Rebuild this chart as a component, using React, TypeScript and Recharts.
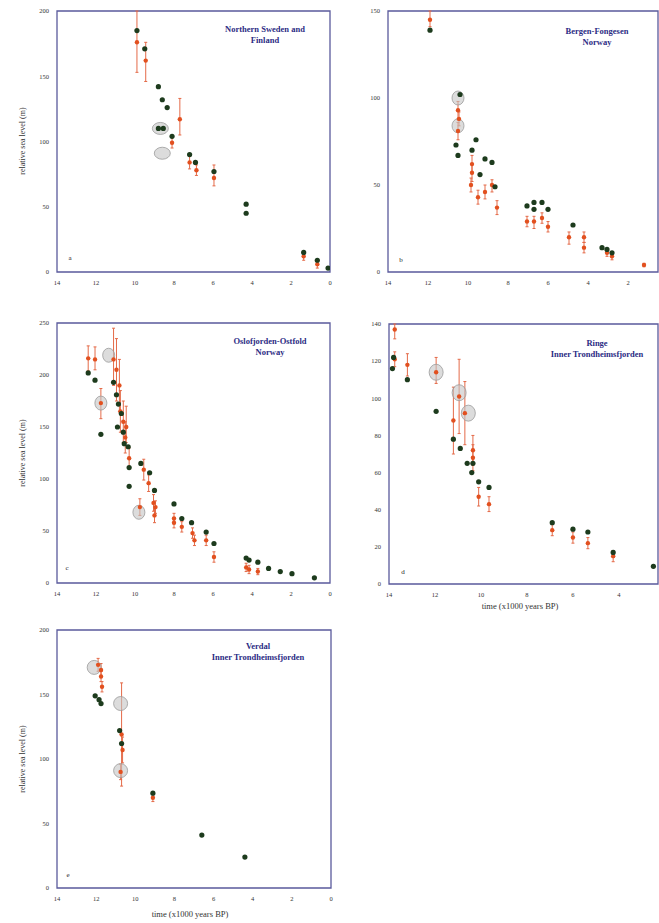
import React from 'react';
import { ScatterChart, Scatter, XAxis, YAxis, ErrorBar, ReferenceArea } from 'recharts';

const FONT = '"Liberation Serif", "DejaVu Serif", serif';
const FRAME = '#5a5a9c';
const DARK = '#1d3b1d';
const RED = '#e2501f';
const RED_BAR = '#e46a48';
const TITLE = '#2c2c84';

type P = { t: number; v: number; e?: [number, number] };

// ---------- Panel a: Northern Sweden and Finland ----------
const p1Dark: P[] = [
  { t: 9.9, v: 185 }, { t: 9.5, v: 171 }, { t: 8.8, v: 142 }, { t: 8.6, v: 132 },
  { t: 8.35, v: 126 }, { t: 8.8, v: 110 }, { t: 8.55, v: 110 }, { t: 8.1, v: 104 },
  { t: 7.2, v: 90 }, { t: 6.9, v: 84 }, { t: 5.95, v: 77 }, { t: 4.3, v: 52 },
  { t: 4.3, v: 45 }, { t: 1.35, v: 15 }, { t: 0.65, v: 9 }, { t: 0.1, v: 3 },
];
const p1Red: P[] = [
  { t: 9.9, v: 176, e: [23, 24] }, { t: 9.45, v: 162, e: [16, 14] }, { t: 7.7, v: 117, e: [12, 16] },
  { t: 8.1, v: 99, e: [4, 4] }, { t: 7.2, v: 84, e: [5, 5] }, { t: 6.85, v: 78, e: [4, 4] },
  { t: 5.95, v: 72, e: [6, 10] }, { t: 1.35, v: 12, e: [3, 3] }, { t: 0.65, v: 6, e: [3, 3] },
];
const p1Grey: P[] = [{ t: 8.7, v: 110 }, { t: 8.6, v: 91 }];

// ---------- Panel b: Bergen ----------
const p2Dark: P[] = [
  { t: 11.9, v: 139 }, { t: 10.4, v: 102 }, { t: 10.6, v: 73 }, { t: 10.5, v: 67 },
  { t: 9.6, v: 76 }, { t: 9.8, v: 70 }, { t: 9.4, v: 56 }, { t: 9.15, v: 65 },
  { t: 8.8, v: 63 }, { t: 8.65, v: 49 }, { t: 7.05, v: 38 }, { t: 6.7, v: 40 },
  { t: 6.7, v: 36 }, { t: 6.3, v: 40 }, { t: 6.0, v: 36 }, { t: 4.75, v: 27 },
  { t: 3.3, v: 14 }, { t: 3.05, v: 13 }, { t: 2.8, v: 11 },
];
const p2Red: P[] = [
  { t: 11.9, v: 145, e: [4, 5] }, { t: 10.5, v: 93, e: [5, 5] }, { t: 10.45, v: 88, e: [4, 4] },
  { t: 10.5, v: 81, e: [5, 5] }, { t: 9.8, v: 62, e: [5, 5] }, { t: 9.8, v: 57, e: [5, 5] },
  { t: 9.85, v: 50, e: [4, 4] }, { t: 9.5, v: 43, e: [4, 4] }, { t: 9.15, v: 46, e: [4, 4] },
  { t: 8.8, v: 50, e: [4, 3] }, { t: 8.55, v: 37, e: [4, 4] }, { t: 7.05, v: 29, e: [3, 3] },
  { t: 6.7, v: 29, e: [4, 3] }, { t: 6.3, v: 31, e: [3, 3] }, { t: 6.0, v: 26, e: [3, 3] },
  { t: 4.95, v: 20, e: [4, 3] }, { t: 4.2, v: 20, e: [3, 3] }, { t: 4.2, v: 14, e: [3, 3] },
  { t: 3.05, v: 11, e: [2, 2] }, { t: 2.8, v: 9, e: [2, 2] }, { t: 1.2, v: 4, e: [1, 1] },
];
const p2Grey: P[] = [{ t: 10.5, v: 100 }, { t: 10.5, v: 84 }];

// ---------- Panel c: Oslofjorden-Ostfold ----------
const p3Dark: P[] = [
  { t: 12.4, v: 202 }, { t: 12.05, v: 195 }, { t: 11.75, v: 143 }, { t: 11.1, v: 193 },
  { t: 10.95, v: 181 }, { t: 10.85, v: 172 }, { t: 10.7, v: 163 }, { t: 10.9, v: 150 },
  { t: 10.6, v: 145 }, { t: 10.55, v: 134 }, { t: 10.35, v: 131 }, { t: 10.3, v: 111 },
  { t: 10.3, v: 93 }, { t: 9.7, v: 115 }, { t: 9.25, v: 106 }, { t: 9.0, v: 89 },
  { t: 8.0, v: 76 }, { t: 7.6, v: 62 }, { t: 7.1, v: 58 }, { t: 6.35, v: 49 },
  { t: 5.95, v: 38 }, { t: 4.3, v: 24 }, { t: 4.15, v: 22 }, { t: 3.7, v: 20 },
  { t: 3.15, v: 14 }, { t: 2.55, v: 11 }, { t: 1.95, v: 9 }, { t: 0.8, v: 5 },
];
const p3Red: P[] = [
  { t: 12.4, v: 216, e: [12, 12] }, { t: 12.05, v: 215, e: [10, 12] }, { t: 11.75, v: 173, e: [15, 14] },
  { t: 11.1, v: 215, e: [25, 30] }, { t: 10.95, v: 205, e: [30, 30] }, { t: 10.8, v: 190, e: [25, 25] },
  { t: 10.75, v: 165, e: [20, 20] }, { t: 10.6, v: 155, e: [20, 20] }, { t: 10.45, v: 150, e: [15, 20] },
  { t: 10.5, v: 140, e: [15, 15] }, { t: 10.3, v: 120, e: [10, 10] }, { t: 9.75, v: 73, e: [8, 8] },
  { t: 9.55, v: 109, e: [10, 10] }, { t: 9.3, v: 96, e: [8, 8] }, { t: 9.05, v: 77, e: [8, 8] },
  { t: 8.95, v: 73, e: [6, 6] }, { t: 9.0, v: 65, e: [7, 7] }, { t: 8.0, v: 62, e: [5, 5] },
  { t: 8.0, v: 58, e: [5, 5] }, { t: 7.6, v: 54, e: [5, 5] }, { t: 7.05, v: 48, e: [5, 5] },
  { t: 6.95, v: 41, e: [5, 5] }, { t: 6.35, v: 41, e: [5, 5] }, { t: 5.95, v: 25, e: [5, 5] },
  { t: 4.3, v: 15, e: [4, 4] }, { t: 4.15, v: 13, e: [4, 4] }, { t: 3.7, v: 11, e: [3, 3] },
];
const p3Grey: P[] = [{ t: 11.75, v: 173 }, { t: 11.35, v: 219 }, { t: 9.8, v: 68 }];

// ---------- Panel d: Inner Trondheimsfjorden ----------
const p4Dark: P[] = [
  { t: 13.8, v: 122 }, { t: 13.85, v: 116 }, { t: 13.2, v: 110 }, { t: 11.95, v: 93 },
  { t: 11.2, v: 78 }, { t: 10.9, v: 73 }, { t: 10.6, v: 65 }, { t: 10.35, v: 65 },
  { t: 10.4, v: 60 }, { t: 10.1, v: 55 }, { t: 9.65, v: 52 }, { t: 6.9, v: 33 },
  { t: 6.0, v: 29.5 }, { t: 5.35, v: 28 }, { t: 4.25, v: 17 }, { t: 2.5, v: 9.5 },
];
const p4Red: P[] = [
  { t: 13.75, v: 137, e: [5, 3] }, { t: 13.75, v: 121, e: [4, 4] }, { t: 13.2, v: 118, e: [6, 6] },
  { t: 11.95, v: 114, e: [6, 8] }, { t: 11.2, v: 88, e: [18, 18] }, { t: 10.95, v: 101, e: [20, 20] },
  { t: 10.7, v: 92, e: [17, 17] }, { t: 10.35, v: 72, e: [8, 8] }, { t: 10.35, v: 68, e: [7, 7] },
  { t: 10.1, v: 47, e: [5, 5] }, { t: 9.65, v: 43, e: [4, 4] }, { t: 6.9, v: 29, e: [3, 3] },
  { t: 6.0, v: 25, e: [3, 3] }, { t: 5.35, v: 22, e: [3, 3] }, { t: 4.25, v: 15, e: [3, 3] },
];
const p4Grey: P[] = [{ t: 11.95, v: 114 }, { t: 10.95, v: 103 }, { t: 10.55, v: 92 }];

// ---------- Panel e: Inner Trondheimsfjorden ----------
const p5Dark: P[] = [
  { t: 12.05, v: 149 }, { t: 11.85, v: 146 }, { t: 11.75, v: 143 }, { t: 10.8, v: 122 },
  { t: 10.7, v: 112 }, { t: 9.1, v: 73.5 }, { t: 6.6, v: 41 }, { t: 4.4, v: 24 },
];
const p5Red: P[] = [
  { t: 11.9, v: 173, e: [5, 5] }, { t: 11.75, v: 169, e: [5, 5] }, { t: 11.75, v: 164, e: [4, 4] },
  { t: 11.7, v: 156, e: [4, 4] }, { t: 10.7, v: 119, e: [40, 40] }, { t: 10.65, v: 107, e: [10, 10] },
  { t: 10.75, v: 90, e: [6, 6] }, { t: 9.1, v: 70, e: [3, 3] },
];
const p5Grey: P[] = [{ t: 12.1, v: 171 }, { t: 10.75, v: 143 }, { t: 10.75, v: 91 }];

// ---------- Axis ticks & labels ----------
const xTicksFull = [0, 2, 4, 6, 8, 10, 12, 14];
const xTicksB = [2, 4, 6, 8, 10, 12, 14];
const xTicksD = [4, 6, 8, 10, 12, 14];
const yTicks200 = [0, 50, 100, 150, 200];
const yTicks150 = [0, 50, 100, 150];
const yTicks250 = [0, 50, 100, 150, 200, 250];
const yTicks140 = [0, 20, 40, 60, 80, 100, 120, 140];
const Y_LABEL = 'relative sea level (m)';
const X_LABEL = 'time (x1000 years BP)';
const titles = [
  ['Northern Sweden and', 'Finland'],
  ['Bergen-Fongesen', 'Norway'],
  ['Oslofjorden-Ostfold', 'Norway'],
  ['Ringe', 'Inner Trondheimsfjorden'],
  ['Verdal', 'Inner Trondheimsfjorden'],
];
const letters = ['a', 'b', 'c', 'd', 'e'];

const tickStyle = { fontSize: 6.5, fill: '#333', fontFamily: FONT };

const darkShape = (p: any) => <circle cx={p.cx} cy={p.cy} r={2.6} fill={DARK} />;
const redShape = (p: any) => <circle cx={p.cx} cy={p.cy} r={2.2} fill={RED} />;
const makeGrey = (rx: number, ry: number) => (p: any) => (
  <ellipse cx={p.cx} cy={p.cy} rx={rx} ry={ry} fill="#c4c4c4" fillOpacity={0.6} stroke="#9a9a9a" strokeWidth={0.8} />
);

function Panel(props: any) {
  const { left, top, width, height, yAxisW, marginRight, xDomain, xTicks, yMax, yTicks, dark, red, grey, rx, ry } = props;
  return (
    <div style={{ position: 'absolute', left, top }}>
      <ScatterChart width={width} height={height} margin={{ top: 11, right: marginRight, left: 0, bottom: 0 }}>
        <XAxis type="number" dataKey="t" domain={xDomain} ticks={xTicks} reversed allowDataOverflow interval={0}
          axisLine={false} tickLine={false} tick={tickStyle} height={20} />
        <YAxis type="number" dataKey="v" domain={[0, yMax]} ticks={yTicks} allowDataOverflow interval={0}
          axisLine={false} tickLine={false} tick={tickStyle} width={yAxisW} />
        <XAxis xAxisId="top" orientation="top" mirror type="number" domain={xDomain} ticks={xTicks} reversed
          allowDataOverflow interval={0} height={0} axisLine={false} tick={false} tickSize={3} stroke={FRAME} />
        <YAxis yAxisId="right" orientation="right" mirror type="number" domain={[0, yMax]} ticks={yTicks}
          allowDataOverflow interval={0} width={0} axisLine={false} tick={false} tickSize={3} stroke={FRAME} />
        <ReferenceArea x1={xDomain[0]} x2={xDomain[1]} y1={0} y2={yMax} fill="none" stroke={FRAME} strokeWidth={1.3} />
        <Scatter data={grey} isAnimationActive={false} shape={makeGrey(rx, ry)} />
        <Scatter data={red} isAnimationActive={false} shape={redShape}>
          <ErrorBar dataKey="e" direction="y" stroke={RED_BAR} width={1.5} strokeWidth={1} />
        </Scatter>
        <Scatter data={dark} isAnimationActive={false} shape={darkShape} />
      </ScatterChart>
    </div>
  );
}

const textBase: React.CSSProperties = { position: 'absolute', fontFamily: FONT, whiteSpace: 'nowrap' };

function Title({ cx, y, lines }: { cx: number; y: number; lines: string[] }) {
  return (
    <div style={{ ...textBase, left: cx, top: y, transform: 'translateX(-50%)', color: TITLE, fontWeight: 700, fontSize: 8.5, lineHeight: '11px', textAlign: 'center' }}>
      {lines.map((l, i) => <div key={i}>{l}</div>)}
    </div>
  );
}

function YLabel({ cx, cy }: { cx: number; cy: number }) {
  return (
    <div style={{ ...textBase, left: cx, top: cy, transform: 'translate(-50%,-50%) rotate(-90deg)', fontSize: 8, color: '#333' }}>{Y_LABEL}</div>
  );
}

function XLabel({ cx, cy }: { cx: number; cy: number }) {
  return (
    <div style={{ ...textBase, left: cx, top: cy, transform: 'translate(-50%,-50%)', fontSize: 8.5, color: '#333' }}>{X_LABEL}</div>
  );
}

function Letter({ x, y, s }: { x: number; y: number; s: string }) {
  return <div style={{ ...textBase, left: x, top: y, transform: 'translate(-50%,-50%)', fontSize: 7, color: '#222' }}>{s}</div>;
}

export default function App() {
  return (
    <div style={{ position: 'absolute', left: 0, top: 0, width: 659, height: 923, overflow: 'hidden', background: '#fff' }}>
      <Panel left={0} top={0} width={340} height={292} yAxisW={57} marginRight={10} xDomain={[0, 14]} xTicks={xTicksFull}
        yMax={200} yTicks={yTicks200} dark={p1Dark} red={p1Red} grey={p1Grey} rx={8} ry={6} />
      <Panel left={330} top={0} width={329} height={292} yAxisW={58} marginRight={1} xDomain={[0.5, 14]} xTicks={xTicksB}
        yMax={150} yTicks={yTicks150} dark={p2Dark} red={p2Red} grey={p2Grey} rx={6} ry={7} />
      <Panel left={0} top={312} width={340} height={291} yAxisW={57} marginRight={10} xDomain={[0, 14]} xTicks={xTicksFull}
        yMax={250} yTicks={yTicks250} dark={p3Dark} red={p3Red} grey={p3Grey} rx={6} ry={7} />
      <Panel left={330} top={313} width={329} height={291} yAxisW={59} marginRight={1} xDomain={[2.3, 14]} xTicks={xTicksD}
        yMax={140} yTicks={yTicks140} dark={p4Dark} red={p4Red} grey={p4Grey} rx={7} ry={8} />
      <Panel left={0} top={619} width={340} height={289} yAxisW={57} marginRight={9} xDomain={[0, 14]} xTicks={xTicksFull}
        yMax={200} yTicks={yTicks200} dark={p5Dark} red={p5Red} grey={p5Grey} rx={7} ry={7} />

      <Title cx={265} y={24} lines={titles[0]} />
      <Title cx={597} y={26} lines={titles[1]} />
      <Title cx={270} y={336} lines={titles[2]} />
      <Title cx={597} y={338} lines={titles[3]} />
      <Title cx={258} y={641} lines={titles[4]} />

      <YLabel cx={22} cy={141} />
      <YLabel cx={22} cy={453} />
      <YLabel cx={22} cy={759} />
      <XLabel cx={520} cy={606} />
      <XLabel cx={190} cy={914} />

      <Letter x={70} y={258} s={letters[0]} />
      <Letter x={401} y={260} s={letters[1]} />
      <Letter x={67} y={568} s={letters[2]} />
      <Letter x={403} y={572} s={letters[3]} />
      <Letter x={68} y={875} s={letters[4]} />
    </div>
  );
}
